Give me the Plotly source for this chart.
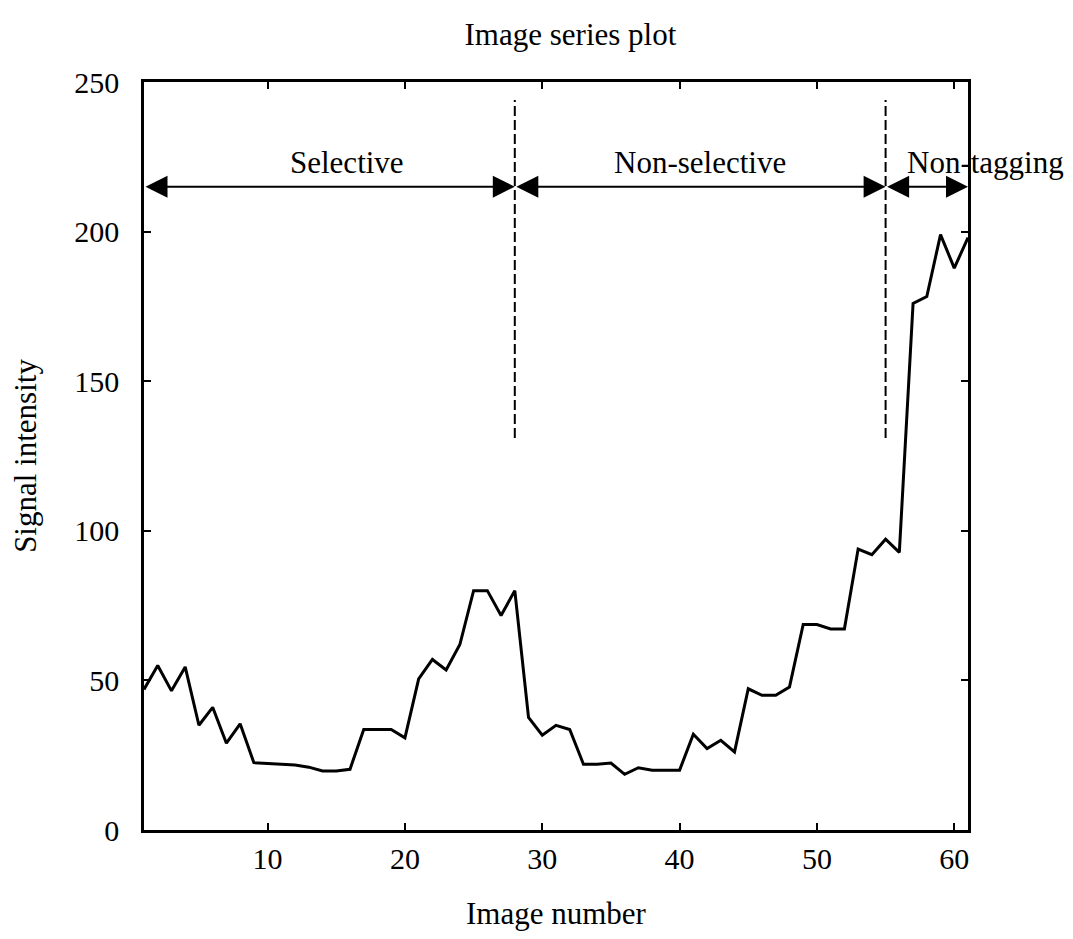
import plotly.graph_objects as go

# ---- data ----
image_number = list(range(1, 62))
signal_intensity = [
    47, 55, 46.5, 54.5, 35, 41, 29, 35.5, 22.5, 22.2,
    21.9, 21.7, 21, 19.7, 19.7, 20.3, 33.6, 33.6, 33.6, 30.8,
    50.5, 57, 53.5, 62, 80, 80, 71.7, 80, 37.6, 31.7,
    35, 33.6, 22, 22, 22.4, 18.6, 20.8, 20, 20, 20,
    32, 27.2, 30, 26.1, 47.2, 45, 45, 47.8, 68.7, 68.7,
    67.2, 67.2, 93.9, 92, 97.2, 92.8, 176, 178.3, 199, 187.8, 198,
]

phase_bounds = [1, 28, 55, 61]
phase_labels = ["Selective", "Non-selective", "Non-tagging"]
label_x = [15.8, 41.5, 62.3]
label_y = 223
arrow_y = 215
divider_x = [28, 55]
divider_y = [131, 244]

x_ticks = [10, 20, 30, 40, 50, 60]
y_ticks = [0, 50, 100, 150, 200, 250]
x_range = [1, 61]
y_range = [0, 250]

FONT = "Liberation Serif"
FS = 31
TICK_FS = 30

W, H = 1057, 923

fig = go.Figure()

fig.add_trace(go.Scatter(
    x=image_number, y=signal_intensity, mode="lines",
    line=dict(color="black", width=3), showlegend=False, hoverinfo="skip",
))

for dx in divider_x:
    fig.add_trace(go.Scatter(
        x=[dx, dx], y=divider_y, mode="lines",
        line=dict(color="black", width=2, dash="10px,4px"),
        showlegend=False, hoverinfo="skip",
    ))

annotations = []
for i in range(len(phase_labels)):
    annotations.append(dict(
        x=phase_bounds[i + 1], y=arrow_y, ax=phase_bounds[i], ay=arrow_y,
        xref="x", yref="y", axref="x", ayref="y",
        text="", showarrow=True, arrowhead=2, startarrowhead=2,
        arrowside="end+start", arrowsize=2.2, startarrowsize=2.2,
        arrowwidth=2, arrowcolor="black", standoff=0, startstandoff=0,
    ))
    # label placed in paper coordinates so it can extend past the axes
    annotations.append(dict(
        x=(label_x[i] - x_range[0]) / (x_range[1] - x_range[0]),
        y=(label_y - y_range[0]) / (y_range[1] - y_range[0]),
        xref="paper", yref="paper",
        text=phase_labels[i], showarrow=False,
        font=dict(family=FONT, size=FS, color="black"),
        xanchor="center", yanchor="middle",
    ))

fig.update_layout(
    width=W, height=H,
    margin=dict(l=136, r=97, t=74, b=101, autoexpand=False),
    paper_bgcolor="white", plot_bgcolor="white",
    font=dict(family=FONT, size=FS, color="black"),
    title=dict(text="Image series plot", x=0.5175, xref="paper", xanchor="center",
               y=1 - 26 / H, yref="container", yanchor="middle",
               font=dict(family=FONT, size=FS, color="black")),
    annotations=annotations,
    showlegend=False,
)

fig.update_xaxes(
    range=x_range, tickvals=x_ticks, ticktext=[str(v) for v in x_ticks],
    ticks="inside", ticklen=7, tickwidth=2, tickcolor="black",
    showline=True, linewidth=2.5, linecolor="black", mirror="ticks",
    showgrid=False, zeroline=False, ticklabelstandoff=0, automargin=False,
    tickfont=dict(family=FONT, size=TICK_FS, color="black"),
    title=dict(text="Image number", standoff=39,
               font=dict(family=FONT, size=FS, color="black")),
)
fig.update_yaxes(
    range=y_range, tickvals=y_ticks, ticktext=[str(v) for v in y_ticks],
    ticks="inside", ticklen=7, tickwidth=2, tickcolor="black",
    showline=True, linewidth=2.5, linecolor="black", mirror="ticks",
    showgrid=False, zeroline=False, ticklabelstandoff=16, automargin=False,
    tickfont=dict(family=FONT, size=TICK_FS, color="black"),
    title=dict(text="Signal intensity", standoff=34,
               font=dict(family=FONT, size=FS, color="black")),
)

fig.write_html("out.html")
